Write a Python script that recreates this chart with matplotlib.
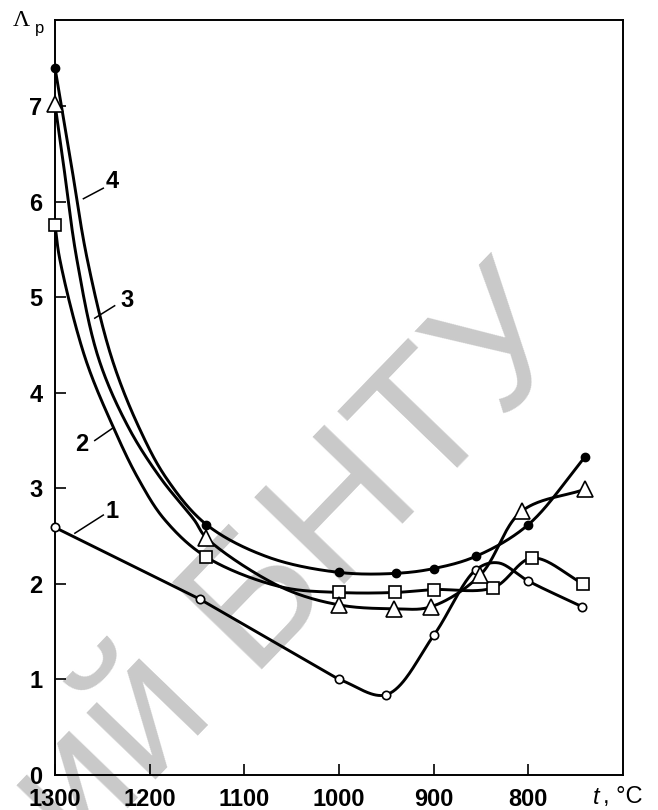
import numpy as np
import matplotlib
matplotlib.use("Agg")
import matplotlib.pyplot as plt

# marker data (t in deg C, Lambda_p)
t1 = [1300, 1147, 1000, 950, 900, 855, 800, 743]
v1 = [2.59, 1.84, 1.00, 0.84, 1.46, 2.15, 2.03, 1.76]

t2 = [1300, 1140, 1000, 941, 900, 837, 796, 742]
v2 = [5.76, 2.28, 1.91, 1.91, 1.94, 1.96, 2.27, 2.00]

t3 = [1300, 1140, 1000, 942, 903, 851, 807, 740]
v3 = [7.02, 2.48, 1.78, 1.74, 1.76, 2.09, 2.76, 2.99]

t4 = [1300, 1140, 1000, 940, 900, 855, 800, 740]
v4 = [7.40, 2.62, 2.12, 2.11, 2.16, 2.29, 2.62, 3.33]

# extra points (no markers there)
t1_line = [832]
v1_line = [2.22]
t2_line = [1295, 1268, 1238, 1212, 1184, 1062]
v2_line = [5.40, 4.36, 3.63, 3.10, 2.67, 1.97]
t3_line = [1292, 1277, 1254, 1222, 1188, 1153, 1062]
v3_line = [6.46, 5.40, 4.36, 3.63, 3.10, 2.67, 1.97]
t4_line = [1284, 1266, 1240, 1211, 1182, 1075]
v4_line = [6.46, 5.40, 4.36, 3.63, 3.10, 2.28]

curve_labels = ["1", "2", "3", "4"]
xticks = [1300, 1200, 1100, 1000, 900, 800]
yticks = [0, 1, 2, 3, 4, 5, 6, 7]

SX, SY = 0.946, 95.4   # rough px per unit, used only to smooth in screen space


def smooth(ts, vs, n=40):
    # centripetal catmull-rom through the points
    P = np.column_stack([(1300 - np.asarray(ts, float)) * SX, np.asarray(vs, float) * SY])
    P = np.vstack([2 * P[0] - P[1], P, 2 * P[-1] - P[-2]])
    out = []
    for i in range(1, len(P) - 2):
        p0, p1, p2, p3 = P[i - 1], P[i], P[i + 1], P[i + 2]
        k0 = 0.0
        k1 = k0 + np.linalg.norm(p1 - p0) ** 0.5
        k2 = k1 + np.linalg.norm(p2 - p1) ** 0.5
        k3 = k2 + np.linalg.norm(p3 - p2) ** 0.5
        u = np.linspace(k1, k2, n)[:, None]
        a1 = (k1 - u) / (k1 - k0) * p0 + (u - k0) / (k1 - k0) * p1
        a2 = (k2 - u) / (k2 - k1) * p1 + (u - k1) / (k2 - k1) * p2
        a3 = (k3 - u) / (k3 - k2) * p2 + (u - k2) / (k3 - k2) * p3
        b1 = (k2 - u) / (k2 - k0) * a1 + (u - k0) / (k2 - k0) * a2
        b2 = (k3 - u) / (k3 - k1) * a2 + (u - k1) / (k3 - k1) * a3
        c = (k2 - u) / (k2 - k1) * b1 + (u - k1) / (k2 - k1) * b2
        out.append(c)
    C = np.vstack(out)
    return 1300 - C[:, 0] / SX, C[:, 1] / SY


def merged(ta, va, tb, vb):
    t = np.concatenate([ta, tb])
    v = np.concatenate([va, vb])
    o = np.argsort(-t)
    return t[o], v[o]


plt.rcParams["font.family"] = ["Liberation Sans", "DejaVu Sans"]
fig = plt.figure(figsize=(6.58, 8.10), dpi=100)
ax = fig.add_axes([55 / 658, 1 - 775 / 810, (623 - 55) / 658, (775 - 20) / 810])

lw = 2.1
# curve 1: straight down to 1000, smooth after that
ax.plot(t1[:3], v1[:3], color="black", lw=lw, zorder=2)
ct, cv = merged(t1[2:], v1[2:], t1_line, v1_line)
xs, ys = smooth(ct, cv)
ax.plot(xs, ys, color="black", lw=lw, zorder=2)

for ta, va, tb, vb in [(t2, v2, t2_line, v2_line), (t3, v3, t3_line, v3_line),
                       (t4, v4, t4_line, v4_line)]:
    ct, cv = merged(ta, va, tb, vb)
    xs, ys = smooth(ct, cv)
    ax.plot(xs, ys, color="black", lw=lw, zorder=2)

ax.plot(t1, v1, ls="none", marker="o", ms=6, mfc="white", mec="black", mew=1.2, zorder=3, clip_on=False)
ax.plot(t2, v2, ls="none", marker="s", ms=9, mfc="white", mec="black", mew=1.2, zorder=3, clip_on=False)
ax.plot(t3, v3, ls="none", marker="^", ms=11, mfc="white", mec="black", mew=1.2, zorder=3, clip_on=False)
ax.plot(t4, v4, ls="none", marker="o", ms=6, mfc="black", mec="black", mew=1.0, zorder=3, clip_on=False)

# curve numbers with leader lines
lab_pos = [(1240, 2.76), (1272, 3.46), (1224, 4.96), (1240, 6.21)]
lead = [((1279, 2.53), (1249, 2.72)), ((1239, 3.63), (1258, 3.50)),
        ((1258, 4.78), (1237, 4.91)), ((1270, 6.03), (1249, 6.14))]
for lab, (x, y), (a, b) in zip(curve_labels, lab_pos, lead):
    ax.text(x, y, lab, fontsize=17, fontweight="bold", ha="center", va="center")
    ax.plot([a[0], b[0]], [a[1], b[1]], color="black", lw=1.1)

ax.set_xlim(1300, 700)
ax.set_ylim(0, 7.9)
ax.set_xticks(xticks)
ax.set_yticks(yticks)
ax.tick_params(direction="in", length=8, width=1.2, labelsize=17)
ax.tick_params(axis="y", pad=9)
ax.tick_params(axis="x", pad=9)
for lbl in ax.get_xticklabels() + ax.get_yticklabels():
    lbl.set_fontweight("bold")
for s in ax.spines.values():
    s.set_linewidth(1.4)

# watermark
ax.text(0.423, 0.275, "ий БНТУ", transform=ax.transAxes, fontsize=130, color="#c9c9c9",
        rotation=46, rotation_mode="anchor", ha="center", va="center", zorder=0.5, clip_on=False)

fig.text(13 / 658, 1 - 20 / 810, "Λ", family="Liberation Serif", fontsize=17, va="center")
fig.text(35 / 658, 1 - 28 / 810, "p", fontsize=12, va="center")
fig.text(593 / 658, 1 - 797 / 810, "t", fontsize=17, style="italic", va="center")
fig.text(603 / 658, 1 - 797 / 810, ", °C", fontsize=17, va="center")

fig.savefig("out.png", dpi=100)
